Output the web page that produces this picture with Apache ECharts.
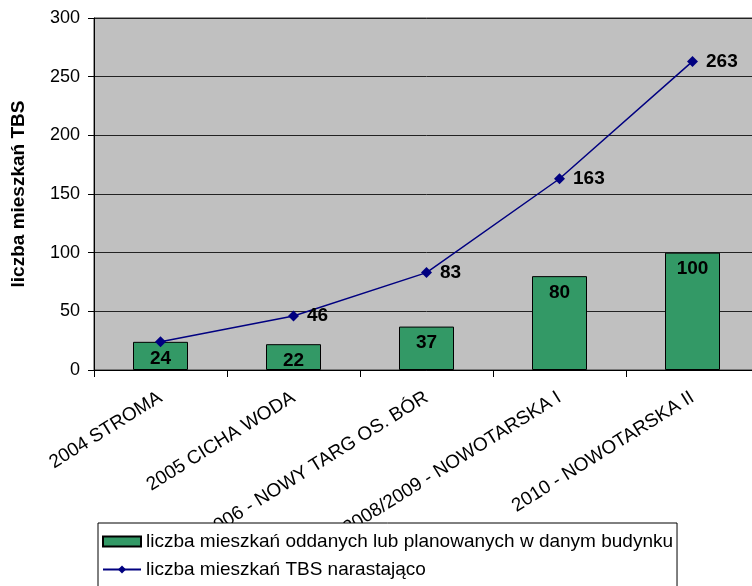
<!DOCTYPE html>
<html>
<head>
<meta charset="utf-8">
<script src="https://cdn.jsdelivr.net/npm/echarts@6/dist/echarts.min.js"></script>
<style>
html,body{margin:0;padding:0;background:#fff;overflow:hidden;}
#chart{width:759px;height:586px;}
</style>
</head>
<body>
<div id="chart"></div>
<script>
const categories = ['2004 STROMA', '2005 CICHA WODA', '2006 - NOWY TARG OS. BÓR', '2008/2009 - NOWOTARSKA I', '2010 - NOWOTARSKA II'];
const barValues = [24, 22, 37, 80, 100];
const cumulativeValues = [24, 46, 83, 163, 263];
const barSeriesName = 'liczba mieszkań oddanych lub planowanych w danym budynku';
const lineSeriesName = 'liczba mieszkań TBS narastająco';
const yAxisTitle = 'liczba mieszkań TBS';
const yMin = 0, yMax = 300, yInterval = 50;
const hiddenLineLabels = [0];

const FONT = "'Liberation Sans', Arial, sans-serif";
const chart = echarts.init(document.getElementById('chart'), null, {renderer: 'canvas'});

const lineData = cumulativeValues.map((v, i) =>
  hiddenLineLabels.includes(i) ? {value: v, label: {show: false}} : v);

chart.setOption({
  animation: false,
  backgroundColor: '#fff',
  textStyle: {fontFamily: FONT},
  grid: {
    left: 94, top: 18, width: 665, height: 352,
    show: true, backgroundColor: '#c0c0c0', borderColor: '#333', borderWidth: 1
  },
  legend: {
    orient: 'vertical', left: 98, top: 523, height: 200, width: 600,
    itemWidth: 38, itemHeight: 10, itemGap: 9,
    padding: [9, 4, 12, 4],
    borderColor: '#000', borderWidth: 1, backgroundColor: '#fff',
    textStyle: {fontSize: 19, color: '#000', fontFamily: FONT},
    data: [{name: barSeriesName, icon: 'rect'}, {name: lineSeriesName}]
  },
  xAxis: {
    type: 'category', data: categories, boundaryGap: true,
    axisLine: {show: true, lineStyle: {color: '#000', width: 1}},
    axisTick: {show: true, alignWithLabel: false, length: 7, lineStyle: {color: '#000'}},
    axisLabel: {interval: 0, rotate: 32, margin: 26, fontSize: 19, color: '#000', fontFamily: FONT},
    splitLine: {show: false}
  },
  yAxis: {
    type: 'value', min: yMin, max: yMax, interval: yInterval,
    name: yAxisTitle, nameLocation: 'middle', nameGap: 66, nameRotate: 90,
    nameTextStyle: {fontSize: 19, fontWeight: 'bold', color: '#000', fontFamily: FONT},
    axisLine: {show: true, lineStyle: {color: '#000', width: 1}},
    axisTick: {show: true, length: 6, lineStyle: {color: '#000'}},
    axisLabel: {margin: 14, fontSize: 18, color: '#000', fontFamily: FONT},
    splitLine: {show: true, lineStyle: {color: '#222', width: 1}}
  },
  series: [
    {
      name: barSeriesName, type: 'bar', data: barValues, barWidth: 55,
      itemStyle: {color: '#339966', borderColor: '#000', borderWidth: 1},
      label: {show: true, position: 'insideTop', distance: 7, fontSize: 19, fontWeight: 'bold', color: '#000', fontFamily: FONT},
      z: 2
    },
    {
      name: lineSeriesName, type: 'line', data: lineData,
      symbol: 'diamond', symbolSize: 11,
      lineStyle: {color: '#000080', width: 1.5},
      itemStyle: {color: '#000080'},
      label: {show: true, position: 'right', distance: 8, fontSize: 19, fontWeight: 'bold', color: '#000', fontFamily: FONT},
      z: 3
    }
  ]
});
</script>
</body>
</html>
